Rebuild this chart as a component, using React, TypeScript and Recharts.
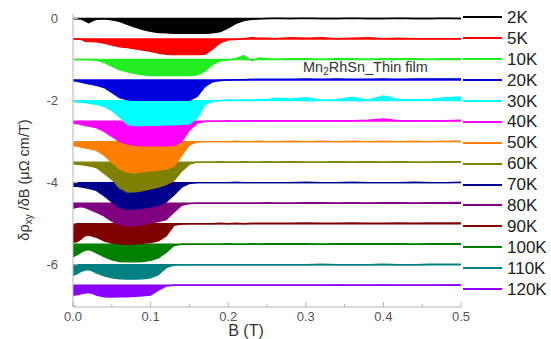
import React from 'react';
import { ComposedChart, Area, XAxis, YAxis } from 'recharts';

// magnetic field sample points (T)
const B_FIELD = [
  0, 0.005, 0.01, 0.015, 0.02, 0.025, 0.03,
  0.04, 0.05, 0.06, 0.07, 0.08, 0.09, 0.1, 0.11, 0.12, 0.13,
  0.14, 0.15, 0.16, 0.17, 0.18, 0.19, 0.2, 0.21, 0.22, 0.23,
  0.24, 0.25, 0.26,
  0.28, 0.3, 0.32, 0.34, 0.36, 0.38, 0.4, 0.42, 0.44, 0.46, 0.48, 0.5,
];

const TEMPS = ['2K', '5K', '10K', '20K', '30K', '40K', '50K', '60K', '70K', '80K', '90K', '100K', '110K', '120K'];

// each curve is shifted down by 0.5 for display
const OFFSETS = [0, -0.5, -1, -1.5, -2, -2.5, -3, -3.5, -4, -4.5, -5, -5.5, -6, -6.5];

// dρxy/dB relative to its own baseline
const dip2K = [
  0, -0.01, -0.01, -0.05, -0.1, -0.06, -0.02,
  -0.01, -0.03, -0.07, -0.14, -0.21, -0.27, -0.31, -0.34, -0.35, -0.36,
  -0.36, -0.36, -0.36, -0.36, -0.35, -0.32, -0.23, -0.12, -0.05, -0.02,
  -0.01, 0, 0.01,
  0, 0.01, 0, 0, 0.01, 0, 0, 0.01, 0, 0, 0.01, 0,
];
const dip5K = [
  0, 0, 0, -0.05, -0.06, -0.06, -0.07,
  -0.1, -0.15, -0.19, -0.21, -0.24, -0.27, -0.3, -0.34, -0.37, -0.38,
  -0.38, -0.38, -0.38, -0.37, -0.24, -0.09, -0.02, -0.01, 0.01, 0.03,
  0.02, 0.02, 0.01,
  0.03, 0.02, 0.03, 0.01, 0.02, 0.03, 0.01, 0.02, 0.01, 0.01, 0.01, 0.01,
];
const dip10K = [
  0, 0, 0, 0, 0, -0.01, -0.02,
  -0.07, -0.16, -0.25, -0.3, -0.34, -0.37, -0.39, -0.39, -0.39, -0.39,
  -0.39, -0.39, -0.37, -0.28, -0.12, -0.03, -0.01, 0.02, 0.1, -0.03,
  0.04, 0.02, 0.01,
  0.02, 0.02, 0.01, 0.02, 0.02, 0.01, 0.02, 0.02, 0.02, 0.01, 0.02, 0.02,
];
const dip20K = [
  -0.01, -0.03, -0.05, -0.07, -0.09, -0.11, -0.13,
  -0.18, -0.3, -0.43, -0.48, -0.49, -0.49, -0.49, -0.49, -0.49, -0.49,
  -0.49, -0.49, -0.4, -0.16, -0.04, -0.01, 0, 0.01, 0.01, 0.02,
  0.02, 0.02, 0.02,
  0.02, 0.03, 0.02, 0.03, 0.02, 0.02, 0.03, 0.02, 0.03, 0.03, 0.03, 0.03,
];
const dip30K = [
  -0.02, -0.03, -0.04, -0.05, -0.06, -0.08, -0.09,
  -0.14, -0.24, -0.4, -0.58, -0.61, -0.61, -0.6, -0.6, -0.59, -0.59,
  -0.58, -0.57, -0.42, -0.1, -0.02, 0, 0.02, 0.01, 0.02, 0.01,
  0.03, 0.02, 0.06,
  0.04, 0.07, 0.01, 0.02, 0.08, 0.01, 0.11, 0.02, 0.02, 0.03, 0.07, 0.09,
];
const dip40K = [
  -0.05, -0.06, -0.08, -0.1, -0.12, -0.14, -0.16,
  -0.25, -0.37, -0.5, -0.56, -0.59, -0.6, -0.6, -0.6, -0.6, -0.59,
  -0.5, -0.22, -0.05, -0.01, 0, 0, 0.01, 0, 0.01, 0.01,
  0.01, 0.01, 0.01,
  0.01, 0.01, 0.01, 0.01, 0.01, 0.02, 0.05, 0.01, 0.01, 0.01, 0.01, 0.02,
];
const dip50K = [
  -0.1, -0.11, -0.13, -0.15, -0.17, -0.19, -0.21,
  -0.33, -0.5, -0.66, -0.75, -0.76, -0.73, -0.71, -0.69, -0.67, -0.6,
  -0.34, -0.08, -0.01, 0, 0, 0, 0, 0.01, 0, 0,
  0.01, 0, 0,
  0.01, 0, 0.01, 0, 0.01, 0, 0.01, 0, 0.01, 0, 0.01, 0.01,
];
const dip60K = [
  -0.04, -0.05, -0.06, -0.07, -0.09, -0.11, -0.13,
  -0.27, -0.42, -0.63, -0.73, -0.72, -0.69, -0.65, -0.61, -0.55, -0.45,
  -0.22, -0.05, 0, 0, 0, 0.01, 0, 0, 0.01, 0,
  0, 0.01, 0,
  0.01, 0, 0, 0.01, 0, 0.01, 0, 0.01, 0, 0, 0.01, 0.01,
];
const dip70K = [
  -0.09, -0.09, -0.1, -0.12, -0.14, -0.16, -0.19,
  -0.32, -0.47, -0.6, -0.65, -0.64, -0.62, -0.59, -0.55, -0.47, -0.3,
  -0.11, -0.02, 0, 0, 0, 0, 0, 0.01, 0, 0,
  0, 0, 0,
  0, 0.01, 0, 0, 0.01, 0, 0, 0, 0.01, 0, 0, 0.01,
];
const dip80K = [
  -0.12, -0.1, -0.08, -0.1, -0.14, -0.18, -0.22,
  -0.31, -0.44, -0.53, -0.56, -0.55, -0.52, -0.48, -0.45, -0.4, -0.22,
  -0.05, -0.01, 0, 0, 0, 0, 0, 0, 0, 0,
  0, 0.01, 0,
  0, 0.01, 0.01, 0, 0.01, 0, 0.01, 0.01, 0, 0.01, 0.01, 0.02,
];
const dip90K = [
  -0.45, -0.44, -0.38, -0.3, -0.28, -0.3, -0.33,
  -0.42, -0.47, -0.49, -0.5, -0.49, -0.48, -0.46, -0.42, -0.3, -0.04,
  -0.01, 0, 0, 0, 0, 0.01, 0, 0.01, 0, 0.01,
  0.01, 0.01, 0.01,
  0.01, 0.02, 0.01, 0.01, 0.02, 0.01, 0.01, 0.02, 0.01, 0.02, 0.02, 0.02,
];
const dip100K = [
  -0.3, -0.26, -0.2, -0.15, -0.13, -0.16, -0.21,
  -0.3, -0.38, -0.42, -0.43, -0.43, -0.42, -0.39, -0.33, -0.2, -0.03,
  0, 0, 0, 0, 0, 0, 0.01, 0, 0, 0.01,
  0, 0.01, 0.01,
  0.01, 0.01, 0, 0.01, 0.01, 0.01, 0.01, 0.01, 0, 0.01, 0.01, 0.01,
];
const dip110K = [
  -0.26, -0.22, -0.17, -0.13, -0.12, -0.15, -0.2,
  -0.27, -0.32, -0.34, -0.35, -0.35, -0.34, -0.32, -0.24, -0.07, -0.01,
  0, 0, 0, 0, 0, 0, 0, 0, 0, 0,
  0, 0, 0,
  0, 0, 0.01, 0, 0, 0, 0.01, 0, 0, 0.01, 0.01, 0.01,
];
const dip120K = [
  -0.24, -0.23, -0.21, -0.19, -0.18, -0.2, -0.24,
  -0.28, -0.29, -0.28, -0.28, -0.27, -0.26, -0.24, -0.12, -0.02, 0,
  0, 0, 0, 0, 0, 0, 0, 0, 0, 0,
  0, 0, 0,
  0, 0, 0, 0.01, 0, 0, 0.01, 0, 0, 0, 0.01, 0.01,
];

const DIPS = [dip2K, dip5K, dip10K, dip20K, dip30K, dip40K, dip50K, dip60K, dip70K, dip80K, dip90K, dip100K, dip110K, dip120K];

const X_TICKS = [0, 0.05, 0.1, 0.15, 0.2, 0.25, 0.3, 0.35, 0.4, 0.45, 0.5];
const Y_TICKS = [-7, -6, -5, -4, -3, -2, -1, 0];

const COLORS = [
  '#000000', '#ff0000', '#22ee22', '#0000dd', '#00ffff', '#ff00ff', '#ff8000',
  '#808000', '#00008b', '#800080', '#800000', '#008000', '#008080', '#8b00ff',
];

const FONT = '"Liberation Sans", Arial, sans-serif';
const FRAME = '#b4b4b4';
const TICK_TEXT = '#555';

// plot box in page pixels
const PLOT_LEFT = 73;
const PLOT_RIGHT = 461;
const PLOT_TOP = 14;
const PLOT_BOTTOM = 307;

// range rows: [baseline, curve] so the fill sits between them
const rows = B_FIELD.map((b, i) => {
  const row: Record<string, number | number[]> = { b };
  TEMPS.forEach((t, k) => {
    row[t] = [OFFSETS[k], +(OFFSETS[k] + DIPS[k][i]).toFixed(3)];
  });
  return row;
});

const isMajorX = (v: number) => Math.round(v * 100) % 10 === 0;

const BottomTick = (props: any) => {
  const { x, payload } = props;
  const major = isMajorX(payload.value);
  return (
    <g>
      <line x1={x} x2={x} y1={PLOT_BOTTOM} y2={PLOT_BOTTOM - (major ? 5 : 3)} stroke={FRAME} />
      {major && (
        <text x={x} y={PLOT_BOTTOM + 5} dy="0.71em" textAnchor="middle" fontSize={13} fill={TICK_TEXT} fontFamily={FONT}>
          {payload.value.toFixed(1)}
        </text>
      )}
    </g>
  );
};

const TopTick = (props: any) => {
  const { x, payload } = props;
  const major = isMajorX(payload.value);
  return <line x1={x} x2={x} y1={PLOT_TOP} y2={PLOT_TOP + (major ? 5 : 3)} stroke={FRAME} />;
};

const LeftTick = (props: any) => {
  const { y, payload } = props;
  const major = payload.value % 2 === 0;
  return (
    <g>
      <line x1={PLOT_LEFT} x2={PLOT_LEFT + (major ? 5 : 3)} y1={y} y2={y} stroke={FRAME} />
      {major && (
        <text x={PLOT_LEFT - 15} y={y} dy="0.36em" textAnchor="end" fontSize={13} fill={TICK_TEXT} fontFamily={FONT}>
          {payload.value}
        </text>
      )}
    </g>
  );
};

const RightTick = (props: any) => {
  const { y, payload } = props;
  const major = payload.value % 2 === 0;
  return <line x1={PLOT_RIGHT} x2={PLOT_RIGHT - (major ? 5 : 3)} y1={y} y2={y} stroke={FRAME} />;
};

const App = () => {
  // lowest curve first so the upper ones overlap it
  const order = TEMPS.map((_, k) => k).reverse();

  return (
    <div style={{ position: 'absolute', left: 0, top: 0, width: 551, height: 339, background: '#fff', fontFamily: FONT }}>
      <ComposedChart width={551} height={339} data={rows} margin={{ top: PLOT_TOP, right: 551 - PLOT_RIGHT, bottom: 0, left: 0 }}>
        <XAxis
          dataKey="b"
          type="number"
          domain={[0, 0.5]}
          ticks={X_TICKS}
          interval={0}
          height={339 - PLOT_BOTTOM}
          axisLine={{ stroke: FRAME }}
          tickLine={false}
          tick={<BottomTick />}
        />
        <XAxis
          xAxisId="top"
          orientation="top"
          type="number"
          domain={[0, 0.5]}
          ticks={X_TICKS}
          interval={0}
          height={0}
          axisLine={{ stroke: FRAME }}
          tickLine={false}
          tick={<TopTick />}
        />
        <YAxis
          type="number"
          domain={[-7.03, 0.11]}
          allowDataOverflow
          ticks={Y_TICKS}
          interval={0}
          width={PLOT_LEFT}
          axisLine={{ stroke: FRAME }}
          tickLine={false}
          tick={<LeftTick />}
        />
        <YAxis
          yAxisId="right"
          orientation="right"
          type="number"
          domain={[-7.03, 0.11]}
          allowDataOverflow
          ticks={Y_TICKS}
          interval={0}
          width={0}
          axisLine={{ stroke: FRAME }}
          tickLine={false}
          tick={<RightTick />}
        />
        {order.map((k) => (
          <Area
            key={TEMPS[k]}
            dataKey={TEMPS[k]}
            type="linear"
            stroke={COLORS[k]}
            strokeWidth={1.4}
            fill={COLORS[k]}
            fillOpacity={1}
            dot={false}
            activeDot={false}
            isAnimationActive={false}
          />
        ))}
      </ComposedChart>

      {/* y axis title */}
      <div
        style={{
          position: 'absolute',
          left: 25,
          top: 180,
          transform: 'translate(-50%, -50%) rotate(-90deg)',
          whiteSpace: 'nowrap',
          fontSize: 14.5,
          color: '#333',
        }}
      >
        δρ<sub style={{ fontSize: 10 }}>xy</sub> /δB (μΩ cm/T)
      </div>

      {/* x axis title */}
      <div style={{ position: 'absolute', left: 246, top: 331, transform: 'translate(-50%, -50%)', fontSize: 16, color: '#333' }}>
        B (T)
      </div>

      {/* sample annotation */}
      <div style={{ position: 'absolute', left: 303, top: 68, transform: 'translateY(-50%)', fontSize: 14.5, color: '#333', whiteSpace: 'nowrap' }}>
        Mn<sub style={{ fontSize: 10 }}>2</sub>RhSn_Thin film
      </div>

      {/* legend */}
      <div style={{ position: 'absolute', left: 463, top: 7, width: 88 }}>
        {TEMPS.map((t, k) => (
          <div key={t} style={{ display: 'flex', alignItems: 'center', height: 20.9 }}>
            <div style={{ width: 39, height: 2, background: COLORS[k] }} />
            <span style={{ marginLeft: 5, fontSize: 17, color: '#222', lineHeight: 1 }}>{t}</span>
          </div>
        ))}
      </div>
    </div>
  );
};

export default App;
